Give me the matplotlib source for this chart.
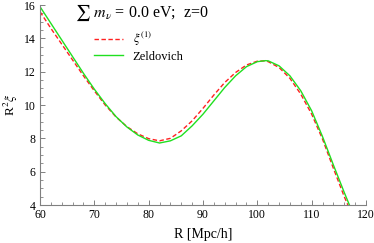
import matplotlib
matplotlib.use('agg')
from matplotlib import pyplot as plt
from matplotlib.ticker import MultipleLocator

plt.rcParams['font.family'] = ['Liberation Serif', 'DejaVu Serif']
plt.rcParams['mathtext.fontset'] = 'stix'

# values
R = [60, 62, 64, 66, 68, 70, 72, 74, 76, 78, 80, 82, 84, 86, 88, 90, 92, 94,
     96, 98, 100, 101.5, 102, 104, 106, 108, 110, 112, 114, 116, 117.2]
xi1 = [15.6, 14.6, 13.65, 12.7, 11.75, 10.85, 10.0, 9.28, 8.7, 8.27, 7.98, 7.85,
       8.0, 8.45, 9.05, 9.8, 10.6, 11.35, 11.95, 12.4, 12.63, 12.65, 12.6,
       12.25, 11.6, 10.65, 9.45, 7.95, 6.2, 4.5, 3.6]
zeld = [15.9, 14.9, 13.9, 12.9, 11.9, 10.95, 10.08, 9.3, 8.68, 8.2, 7.88, 7.72,
        7.85, 8.15, 8.75, 9.45, 10.25, 11.05, 11.75, 12.3, 12.6, 12.66, 12.65,
        12.35, 11.75, 10.85, 9.65, 8.1, 6.4, 4.75, 3.8]

fig = plt.figure(figsize=(3.74, 2.43), dpi=100)
ax = fig.add_axes([40/374, 38/243, 326/374, 200/243])

ax.plot(R, xi1, color='#ff2020', lw=1.0, dashes=(3.2, 1.8), label=r'$\xi^{(1)}$')
ax.plot(R, zeld, color='#20e020', lw=1.0, label='Zeldovich')

ax.set_xlim(60, 120)
ax.set_ylim(4, 16)
ax.xaxis.set_major_locator(MultipleLocator(10))
ax.xaxis.set_minor_locator(MultipleLocator(2))
ax.yaxis.set_major_locator(MultipleLocator(2))
ax.yaxis.set_minor_locator(MultipleLocator(0.5))

for s in ['top', 'right']:
    ax.spines[s].set_visible(False)
for s in ['left', 'bottom']:
    ax.spines[s].set_color('#808080')
    ax.spines[s].set_linewidth(0.8)
ax.tick_params(which='both', direction='in', color='#808080', labelsize=8.5)
ax.tick_params(axis='x', pad=3)
ax.tick_params(axis='y', pad=3)
ax.tick_params(which='major', length=3.5, width=0.7)
ax.tick_params(which='minor', length=2, width=0.6)

ax.set_xlabel('R [Mpc/h]', fontsize=10, labelpad=5)
ax.set_ylabel(r'R$^2\xi$', fontsize=9.5, labelpad=3)

ax.text(0.107, 0.96, r'$\sum\ m_\nu$ = 0.0 eV;  z=0', transform=ax.transAxes,
        fontsize=11.5, va='center', ha='left')

ax.legend(loc='upper left', bbox_to_anchor=(0.165, 0.875), frameon=False,
          fontsize=9, handlelength=2.3, handletextpad=0.8, borderpad=0,
          borderaxespad=0, labelspacing=0.2)

fig.savefig('out.png', dpi=100)
